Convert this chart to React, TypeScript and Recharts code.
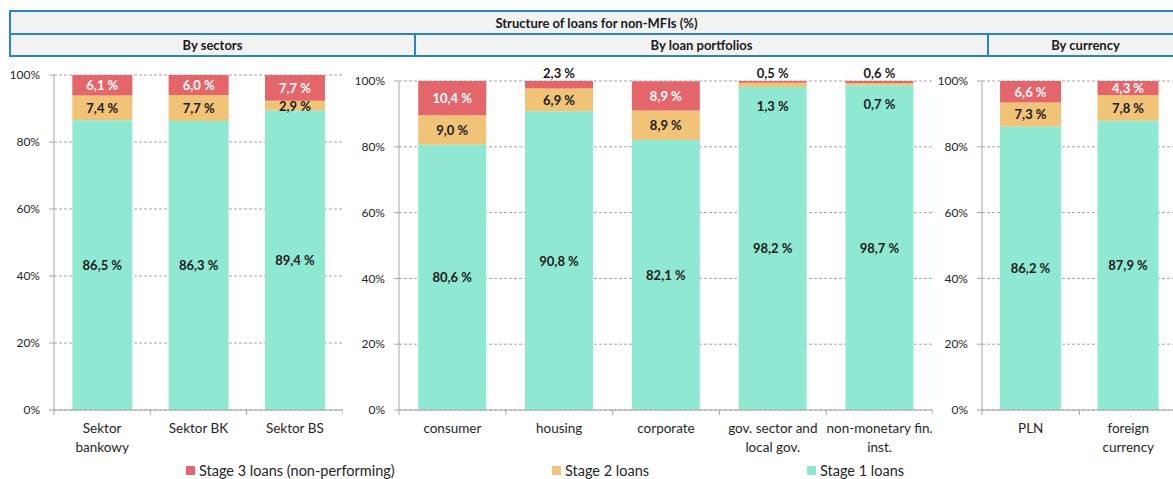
import React from 'react';
import { BarChart, Bar, XAxis, YAxis, CartesianGrid, LabelList } from 'recharts';

// categories per panel ("\n" marks a line break in the axis label)
const sectorNames = ['Sektor\nbankowy', 'Sektor BK', 'Sektor BS'];
const portfolioNames = ['consumer', 'housing', 'corporate', 'gov. sector and\nlocal gov.', 'non-monetary fin.\ninst.'];
const currencyNames = ['PLN', 'foreign\ncurrency'];

// stage 1 / stage 2 / stage 3 shares (%)
const sectorStage1 = [86.5, 86.3, 89.4];
const sectorStage2 = [7.4, 7.7, 2.9];
const sectorStage3 = [6.1, 6.0, 7.7];

const portfolioStage1 = [80.6, 90.8, 82.1, 98.2, 98.7];
const portfolioStage2 = [9.0, 6.9, 8.9, 1.3, 0.7];
const portfolioStage3 = [10.4, 2.3, 8.9, 0.5, 0.6];

const currencyStage1 = [86.2, 87.9];
const currencyStage2 = [7.3, 7.8];
const currencyStage3 = [6.6, 4.3];

const yTicks = [0, 20, 40, 60, 80, 100];

const legendItems = [
  { name: 'Stage 3 loans (non-performing)', color: '#E5666A' },
  { name: 'Stage 2 loans', color: '#F0C377' },
  { name: 'Stage 1 loans', color: '#8FE8D1' },
];

const FONT = 'Lato, "Open Sans", sans-serif';
const AXIS = '#A6A6A6';
const PLOT_BOTTOM = 410;

const toRows = (names: string[], s1: number[], s2: number[], s3: number[]) =>
  names.map((name, i) => ({ name, s1: s1[i], s2: s2[i], s3: s3[i] }));

const fmt = (v: number) => `${v.toFixed(1).replace('.', ',')} %`;

const SegLabel = (props: any) => {
  const vb = props.viewBox ?? props;
  const { x, y, width, height } = vb;
  const value = Number(props.value);
  const stage = props.stage;
  let cy = y + height / 2;
  let fill = '#1a1a1a';
  if (stage === 3) {
    if (value < 3) cy = y - 8;
    else fill = '#ffffff';
  }
  if (stage === 2 && value < 2) cy = y + height + 19;
  return (
    <text
      x={x + width / 2}
      y={cy}
      textAnchor="middle"
      dominantBaseline="central"
      fontFamily={FONT}
      fontWeight={700}
      fontSize={13}
      fill={fill}
    >
      {fmt(value)}
    </text>
  );
};

const CatTick = (props: any) => {
  const { x, payload, half } = props;
  const lines = String(payload.value).split('\n');
  return (
    <g>
      <line x1={x + half} x2={x + half} y1={PLOT_BOTTOM} y2={PLOT_BOTTOM + 5} stroke={AXIS} />
      {payload.index === 0 && (
        <line x1={x - half} x2={x - half} y1={PLOT_BOTTOM} y2={PLOT_BOTTOM + 5} stroke={AXIS} />
      )}
      {lines.map((ln, i) => (
        <text
          key={i}
          x={x}
          y={PLOT_BOTTOM + 18 + i * 19}
          textAnchor="middle"
          dominantBaseline="central"
          fontFamily={FONT}
          fontSize={13.5}
          fill="#262626"
        >
          {ln}
        </text>
      ))}
    </g>
  );
};

interface PanelProps {
  rows: { name: string; s1: number; s2: number; s3: number }[];
  left: number;
  width: number;
  axisWidth: number;
  top: number;
  gap: string;
}

const Panel: React.FC<PanelProps> = ({ rows, left, width, axisWidth, top, gap }) => {
  const half = (width - axisWidth) / rows.length / 2;
  return (
    <div style={{ position: 'absolute', left, top: 0 }}>
      <BarChart
        width={width}
        height={460}
        data={rows}
        margin={{ top, right: 0, bottom: 0, left: 0 }}
        barCategoryGap={gap}
      >
        <CartesianGrid vertical={false} stroke={AXIS} strokeDasharray="3 2" />
        <XAxis
          dataKey="name"
          interval={0}
          height={460 - PLOT_BOTTOM}
          axisLine={{ stroke: AXIS }}
          tickLine={false}
          tick={(p: any) => <CatTick {...p} half={half} />}
        />
        <YAxis
          type="number"
          domain={[0, 100]}
          allowDataOverflow
          ticks={yTicks}
          interval={0}
          width={axisWidth}
          tickSize={5}
          tickMargin={9}
          axisLine={{ stroke: AXIS }}
          tickLine={{ stroke: AXIS }}
          tickFormatter={(v: number) => `${v}%`}
          tick={{ fontFamily: FONT, fontSize: 12, fill: '#262626' }}
        />
        <Bar dataKey="s1" stackId="a" fill="#8FE8D1" isAnimationActive={false}>
          <LabelList dataKey="s1" content={(p: any) => <SegLabel {...p} stage={1} />} />
        </Bar>
        <Bar dataKey="s2" stackId="a" fill="#F0C377" isAnimationActive={false}>
          <LabelList dataKey="s2" content={(p: any) => <SegLabel {...p} stage={2} />} />
        </Bar>
        <Bar dataKey="s3" stackId="a" fill="#E5666A" isAnimationActive={false}>
          <LabelList dataKey="s3" content={(p: any) => <SegLabel {...p} stage={3} />} />
        </Bar>
      </BarChart>
    </div>
  );
};

const headerCell = (left: number, top: number, width: number, height: number, text: string) => (
  <div
    style={{
      position: 'absolute',
      left,
      top,
      width,
      height,
      boxSizing: 'border-box',
      border: '2px solid #2A86BD',
      background: '#F2F2F2',
      display: 'flex',
      alignItems: 'center',
      justifyContent: 'center',
      fontFamily: FONT,
      fontWeight: 700,
      fontSize: 13,
      color: '#1a1a1a',
    }}
  >
    {text}
  </div>
);

export default function App() {
  const sectorRows = toRows(sectorNames, sectorStage1, sectorStage2, sectorStage3);
  const portfolioRows = toRows(portfolioNames, portfolioStage1, portfolioStage2, portfolioStage3);
  const currencyRows = toRows(currencyNames, currencyStage1, currencyStage2, currencyStage3);
  const legendX = [186, 552, 807];

  return (
    <div
      style={{
        position: 'absolute',
        left: 0,
        top: 0,
        width: 1173,
        height: 479,
        overflow: 'hidden',
        background: '#fff',
      }}
    >
      {headerCell(9, 10, 1175, 25, 'Structure of loans for non-MFIs (%)')}
      {headerCell(9, 33, 407, 24, 'By sectors')}
      {headerCell(414, 33, 575, 24, 'By loan portfolios')}
      {headerCell(987, 33, 197, 24, 'By currency')}

      <Panel rows={sectorRows} left={0} width={343} axisWidth={54} top={75} gap="19%" />
      <Panel rows={portfolioRows} left={343} width={590} axisWidth={56} top={81} gap="18%" />
      <Panel rows={currencyRows} left={933} width={244} axisWidth={49} top={81} gap="18.5%" />

      {legendItems.map((it, i) => (
        <div
          key={it.name}
          style={{
            position: 'absolute',
            left: legendX[i],
            top: 462,
            display: 'flex',
            alignItems: 'center',
            fontFamily: FONT,
            fontSize: 14.5,
            color: '#262626',
            whiteSpace: 'nowrap',
          }}
        >
          <span style={{ width: 9, height: 9, background: it.color, marginRight: 4 }} />
          {it.name}
        </div>
      ))}
    </div>
  );
}
